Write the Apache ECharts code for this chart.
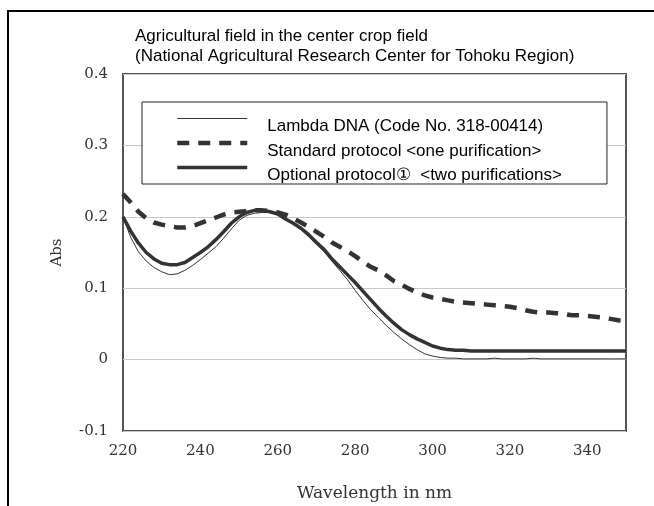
<!DOCTYPE html>
<html>
<head>
<meta charset="utf-8">
<script src="https://cdn.jsdelivr.net/npm/echarts@6/dist/echarts.min.js"></script>
<style>
  html, body { margin: 0; padding: 0; background: #fff; }
  #chart { width: 654px; height: 506px; }
</style>
</head>
<body>
<div id="chart"></div>
<script>
// Absorbance spectra, 220–350 nm
const wavelengths = [220,222,224,226,228,230,232,234,236,238,240,242,244,246,248,250,252,254,256,258,
  260,262,264,266,268,270,272,274,276,278,280,282,284,286,288,290,292,294,296,298,
  300,302,304,306,308,310,312,314,316,318,320,322,324,326,328,330,332,334,336,338,
  340,342,344,346,348,350];

const lambdaDNA = [0.200,0.171,0.151,0.138,0.129,0.123,0.119,0.120,0.125,0.132,0.140,0.149,0.158,0.170,0.183,0.195,0.202,0.205,0.206,0.206,
  0.203,0.197,0.190,0.182,0.172,0.162,0.151,0.138,0.125,0.112,0.097,0.083,0.070,0.059,0.048,0.038,0.029,0.021,0.014,0.008,
  0.005,0.003,0.002,0.002,0.001,0.001,0.001,0.001,0.002,0.001,0.001,0.001,0.001,0.002,0.001,0.001,0.001,0.001,0.001,0.001,
  0.001,0.001,0.001,0.001,0.001,0.001];

const standardProtocol = [0.232,0.220,0.207,0.198,0.192,0.189,0.187,0.185,0.185,0.187,0.191,0.195,0.199,0.203,0.206,0.207,0.208,0.209,0.209,0.208,
  0.206,0.203,0.198,0.192,0.186,0.179,0.172,0.164,0.158,0.152,0.145,0.137,0.130,0.125,0.118,0.110,0.105,0.099,0.094,0.090,
  0.087,0.085,0.083,0.081,0.080,0.079,0.078,0.077,0.076,0.075,0.074,0.072,0.069,0.067,0.066,0.066,0.065,0.064,0.062,0.062,
  0.061,0.060,0.059,0.057,0.055,0.054];

const optionalProtocol = [0.200,0.180,0.163,0.150,0.141,0.135,0.133,0.133,0.136,0.143,0.150,0.158,0.168,0.179,0.191,0.200,0.206,0.209,0.209,0.207,
  0.204,0.197,0.191,0.184,0.175,0.164,0.154,0.141,0.130,0.119,0.108,0.096,0.084,0.072,0.061,0.051,0.042,0.035,0.029,0.024,
  0.019,0.016,0.014,0.013,0.013,0.012,0.012,0.012,0.012,0.012,0.012,0.012,0.012,0.012,0.012,0.012,0.012,0.012,0.012,0.012,
  0.012,0.012,0.012,0.012,0.012,0.012];

const seriesNames = [
  'Lambda DNA (Code No. 318-00414)',
  'Standard protocol <one purification>',
  'Optional protocol\u2460  <two purifications>'
];

const titleLines = [
  'Agricultural field in the center crop field',
  '(National Agricultural Research Center for Tohoku Region)'
];

const pair = vals => wavelengths.map((w, i) => [w, vals[i]]);

const serif = 'DejaVu Serif';
const sans = 'Liberation Sans';

const chart = echarts.init(document.getElementById('chart'), null, { renderer: 'canvas' });

chart.setOption({
  animation: false,
  backgroundColor: '#fff',
  title: {
    text: titleLines.join('\n'),
    left: 135,
    top: 26,
    padding: 0,
    textStyle: { fontFamily: sans, fontSize: 17, fontWeight: 'normal', color: '#000', lineHeight: 20 }
  },
  graphic: [{
    type: 'rect',
    silent: true,
    z: -10,
    shape: { x: 8, y: 11, width: 700, height: 600 },
    style: { fill: 'none', stroke: '#000', lineWidth: 2 }
  }],
  grid: {
    left: 123, right: 28, top: 74, bottom: 75,
    outerBoundsMode: 'none',
    containLabel: false,
    show: true, borderColor: '#555', borderWidth: 2, backgroundColor: 'transparent'
  },
  legend: {
    orient: 'vertical',
    left: 142,
    top: 102,
    padding: [0, 45, 0, 33],
    itemWidth: 70,
    itemHeight: 14,
    itemGap: -8.5,
    borderColor: '#222',
    borderWidth: 1,
    backgroundColor: '#fff',
    itemStyle: { color: 'rgba(0,0,0,0)', borderWidth: 0, opacity: 0 },
    lineStyle: { width: 'inherit' },
    formatter: name => '{t|' + name + '}',
    textStyle: {
      fontFamily: sans, fontSize: 17, color: '#000',
      rich: { t: { fontFamily: sans, fontSize: 17, color: '#000', lineHeight: 16, padding: [16, 0, 0, 15] } }
    },
    data: seriesNames
  },
  xAxis: {
    type: 'value',
    min: 220, max: 350, interval: 20,
    name: 'Wavelength in nm',
    nameLocation: 'middle',
    nameGap: 54,
    nameTextStyle: { fontFamily: serif, fontSize: 17, color: '#333' },
    axisLine: { show: false },
    axisTick: { show: false },
    splitLine: { show: false },
    axisLabel: { fontFamily: serif, fontSize: 15, color: '#333', margin: 13, showMaxLabel: false }
  },
  yAxis: {
    type: 'value',
    min: -0.1, max: 0.4, interval: 0.1,
    name: 'Abs',
    nameLocation: 'middle',
    nameGap: 58,
    nameTextStyle: { fontFamily: serif, fontSize: 15, color: '#333' },
    axisLine: { show: false },
    axisTick: { show: false },
    splitLine: { lineStyle: { color: '#c8c8c8', width: 1 } },
    axisLabel: {
      fontFamily: serif, fontSize: 15, color: '#333', margin: 15,
      formatter: v => Math.abs(v) < 1e-9 ? '0' : v.toFixed(1)
    }
  },
  series: [
    {
      name: seriesNames[0], type: 'line', data: pair(lambdaDNA),
      symbol: 'none', smooth: false, z: 3,
      lineStyle: { color: '#333', width: 1 }
    },
    {
      name: seriesNames[1], type: 'line', data: pair(standardProtocol),
      symbol: 'none', smooth: false, z: 2,
      lineStyle: { color: '#333', width: 4.5, type: [12, 9] }
    },
    {
      name: seriesNames[2], type: 'line', data: pair(optionalProtocol),
      symbol: 'none', smooth: false, z: 4,
      lineStyle: { color: '#333', width: 3.5 }
    }
  ]
});
</script>
</body>
</html>
